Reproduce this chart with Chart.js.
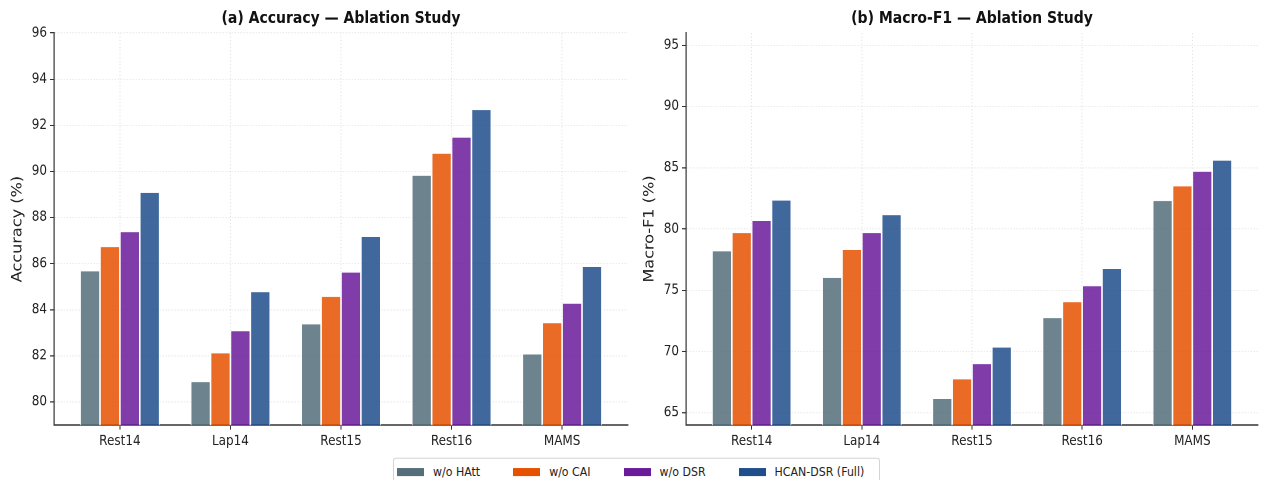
<!DOCTYPE html>
<html>
<head>
<meta charset="utf-8">
<script src="https://cdn.jsdelivr.net/npm/chart.js@4"></script>
<style>
  html, body { margin: 0; padding: 0; background: #fff; width: 1261px; height: 480px; overflow: hidden; }
  #wrap { position: absolute; left: 0; top: 0; width: 1261px; height: 417.4px; transform: scaleY(1.15); transform-origin: 0 0; }
  .box { position: absolute; top: 0; height: 398px; }
  #legend { position: absolute; left: 393px; top: 398px; width: 487px; height: 25px; box-sizing: border-box;
            border: 1px solid #d4d4d4; border-radius: 3px; background: #fff; display: flex; align-items: center;
            padding-left: 3px; font-family: 'DejaVu Sans', sans-serif; font-size: 11px; color: #222; }
  .item { display: flex; align-items: center; margin-right: 33px; white-space: nowrap; }
  .patch { width: 27px; height: 7px; margin-right: 9px; }
</style>
</head>
<body>
<div id="wrap">
  <div class="box" style="left:0;width:640px;"><canvas id="c1" width="640" height="398"></canvas></div>
  <div class="box" style="left:630px;width:631px;"><canvas id="c2" width="631" height="398"></canvas></div>
  <div id="legend"></div>
</div>
<script>
// ---- data ----
const categories = ['Rest14', 'Lap14', 'Rest15', 'Rest16', 'MAMS'];
const seriesNames = ['w/o HAtt', 'w/o CAI', 'w/o DSR', 'HCAN-DSR (Full)'];

const accHAtt = [85.7, 80.9, 83.4, 89.85, 82.1];
const accCAI  = [86.75, 82.15, 84.6, 90.8, 83.45];
const accDSR  = [87.4, 83.1, 85.65, 91.5, 84.3];
const accFull = [89.1, 84.8, 87.2, 92.7, 85.9];

const f1HAtt = [78.25, 76.1, 66.2, 72.8, 82.35];
const f1CAI  = [79.75, 78.35, 67.8, 74.1, 83.55];
const f1DSR  = [80.75, 79.75, 69.05, 75.4, 84.75];
const f1Full = [82.4, 81.2, 70.4, 76.8, 85.65];

const accTicks = { min: 79, max: 96, step: 2 };
const f1Ticks  = { min: 64, max: 96, step: 5 };

// ---- styles ----
const baseColors = ['#546E7A', '#E65100', '#6A1B9A', '#1F4E8C'];
const FONT = "'DejaVu Sans', sans-serif";
function rgba(hex, a) {
  const n = parseInt(hex.slice(1), 16);
  return `rgba(${(n >> 16) & 255},${(n >> 8) & 255},${n & 255},${a})`;
}

function makeChart(id, title, yLabel, seriesArrays, yt, rightPad, yWidth, yTitlePad) {
  const datasets = seriesArrays.map((arr, k) => ({
    label: seriesNames[k],
    data: arr.map((v, i) => ({ x: i, y: v })),
    backgroundColor: rgba(baseColors[k], 0.85),
    borderColor: '#ffffff',
    borderWidth: 0.8,
    borderSkipped: 'start'
  }));
  const gridCommon = {
    offset: false,
    color: 'rgba(170,170,170,0.45)', lineWidth: 0.8,
    drawTicks: true, tickLength: 4, tickColor: '#333', tickWidth: 1
  };
  const borderCommon = { display: true, color: '#333', width: 1.2, dash: [1, 2] };
  return new Chart(document.getElementById(id), {
    type: 'bar',
    data: { datasets },
    options: {
      responsive: false,
      devicePixelRatio: 2,
      animation: false,
      categoryPercentage: 0.72,
      barPercentage: 1.0,
      layout: { padding: { left: 0, right: rightPad, top: 0, bottom: 0 } },
      plugins: {
        legend: { display: false },
        tooltip: { enabled: false },
        title: {
          display: true, text: title, color: '#111', fullSize: false,
          font: { family: FONT, size: 14, weight: 'bold', lineHeight: 1.2 },
          padding: { top: 8.1, bottom: 3.8 }
        }
      },
      scales: {
        x: {
          type: 'linear', min: -0.596, max: 4.596, offset: false,
          ticks: {
            stepSize: 1, includeBounds: false, autoSkip: false, maxRotation: 0, padding: 3,
            color: '#222', font: { family: FONT, size: 12 },
            callback: (v) => (Number.isInteger(v) && categories[v] !== undefined ? categories[v] : '')
          },
          grid: gridCommon,
          border: borderCommon,
          afterFit: (s) => { s.height = 28.4; }
        },
        y: {
          min: yt.min, max: yt.max,
          ticks: {
            stepSize: yt.step, includeBounds: false, padding: 3,
            color: '#222', font: { family: FONT, size: 12 }
          },
          grid: gridCommon,
          border: borderCommon,
          title: {
            display: true, text: yLabel, color: '#222',
            font: { family: FONT, size: 14 }, padding: { top: yTitlePad, bottom: 0 }
          },
          afterFit: (s) => { s.width = yWidth; }
        }
      }
    }
  });
}

makeChart('c1', '(a) Accuracy — Ablation Study', 'Accuracy (%)',
  [accHAtt, accCAI, accDSR, accFull], accTicks, 12, 54, 9.6);
makeChart('c2', '(b) Macro-F1 — Ablation Study', 'Macro-F1 (%)',
  [f1HAtt, f1CAI, f1DSR, f1Full], f1Ticks, 3, 56, 11.6);

// ---- legend ----
const legend = document.getElementById('legend');
seriesNames.forEach((name, k) => {
  const item = document.createElement('div');
  item.className = 'item';
  const p = document.createElement('div');
  p.className = 'patch';
  p.style.background = baseColors[k];
  const t = document.createElement('span');
  t.textContent = name;
  item.appendChild(p); item.appendChild(t);
  legend.appendChild(item);
});
</script>
</body>
</html>
